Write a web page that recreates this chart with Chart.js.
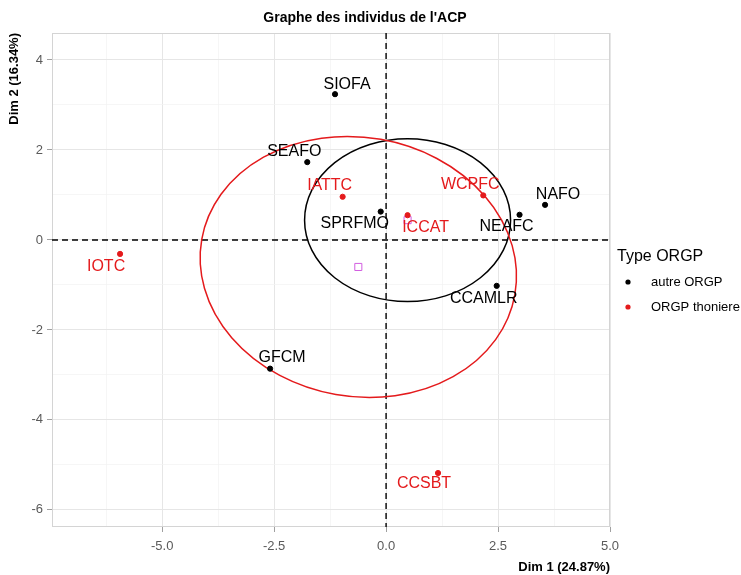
<!DOCTYPE html>
<html>
<head>
<meta charset="utf-8">
<script src="https://cdn.jsdelivr.net/npm/chart.js@4.4.1/dist/chart.umd.min.js"></script>
<style>
  html, body { margin: 0; padding: 0; background: #fff; }
  #wrap { width: 741px; height: 575px; }
</style>
</head>
<body>
<div id="wrap"><canvas id="acpChart" width="741" height="575"></canvas></div>
<script>
// groupe "autre ORGP"
const autreNames = ['SIOFA', 'SEAFO', 'SPRFMO', 'NEAFC', 'NAFO', 'CCAMLR', 'GFCM'];
const autreDim1 = [-1.14, -1.76, -0.12, 2.98, 3.55, 2.47, -2.59];
const autreDim2 = [3.24, 1.73, 0.63, 0.56, 0.78, -1.02, -2.86];

// groupe "ORGP thoniere"
const thonNames = ['IATTC', 'ICCAT', 'WCPFC', 'IOTC', 'CCSBT'];
const thonDim1 = [-0.97, 0.48, 2.17, -5.94, 1.16];
const thonDim2 = [0.96, 0.55, 0.99, -0.31, -5.18];

// barycentres des groupes (autre, thoniere)
const meanDim1 = [0.48, -0.62];
const meanDim2 = [0.44, -0.60];

// ellipses de confiance (demi-axes en unites des dimensions)
const ellipseA = [2.30, 3.55];
const ellipseB = [1.81, 2.88];
const ellipseAngle = [0, 10]; // degres, sens horaire a l'ecran

const groupLabels = ['autre ORGP', 'ORGP thoniere'];
const xTicks = [-5, -2.5, 0, 2.5, 5];
const xMinor = [-6.25, -3.75, -1.25, 1.25, 3.75];
const yTicks = [-6, -4, -2, 0, 2, 4];
const yMinor = [-5, -3, -1, 1, 3];

const groupColors = ['#000000', '#e41a1c'];
const meanColor = '#d25ee0';
const font = '"Liberation Sans", Arial, sans-serif';

// decalage des etiquettes (px) par rapport au point
const labelNudge = {
  SIOFA: [12, -10], SEAFO: [-13, -11], SPRFMO: [-26, 12], NEAFC: [-13, 12],
  NAFO: [13, -10], CCAMLR: [-13, 13], GFCM: [12, -11],
  IATTC: [-13, -11], ICCAT: [18, 12], WCPFC: [-13, -11], IOTC: [-14, 13], CCSBT: [-14, 11]
};

function toPoints(xs, ys) {
  return xs.map((v, i) => ({ x: v, y: ys[i] }));
}

const acpDecor = {
  id: 'acpDecor',
  beforeDatasetsDraw(chart) {
    const { ctx, chartArea: a, scales: { x, y } } = chart;
    ctx.save();
    ctx.strokeStyle = '#d4d4d4';
    ctx.lineWidth = 1;
    ctx.strokeRect(a.left + 0.5, a.top + 0.5, a.width - 1, a.height - 1);

    // axes en pointilles
    const x0 = x.getPixelForValue(0);
    const y0 = y.getPixelForValue(0);
    ctx.strokeStyle = '#000';
    ctx.lineWidth = 1.4;
    ctx.setLineDash([6, 4]);
    ctx.beginPath();
    ctx.moveTo(x0, a.top); ctx.lineTo(x0, a.bottom);
    ctx.moveTo(a.left, y0); ctx.lineTo(a.right, y0);
    ctx.stroke();
    ctx.setLineDash([]);

    // ellipses
    ctx.lineWidth = 1.5;
    ellipseA.forEach((ra, i) => {
      const cx = x.getPixelForValue(meanDim1[i]);
      const cy = y.getPixelForValue(meanDim2[i]);
      const rx = Math.abs(x.getPixelForValue(ra) - x0);
      const ry = Math.abs(y.getPixelForValue(ellipseB[i]) - y0);
      ctx.strokeStyle = groupColors[i];
      ctx.beginPath();
      ctx.ellipse(cx, cy, rx, ry, ellipseAngle[i] * Math.PI / 180, 0, 2 * Math.PI);
      ctx.stroke();
    });
    ctx.restore();
  },
  afterDatasetsDraw(chart) {
    const { ctx, scales: { x, y } } = chart;
    ctx.save();
    ctx.font = '16px ' + font;
    ctx.textAlign = 'center';
    ctx.textBaseline = 'middle';
    [[autreNames, autreDim1, autreDim2], [thonNames, thonDim1, thonDim2]].forEach((g, gi) => {
      ctx.fillStyle = groupColors[gi];
      g[0].forEach((name, i) => {
        const n = labelNudge[name] || [0, -12];
        ctx.fillText(name, x.getPixelForValue(g[1][i]) + n[0], y.getPixelForValue(g[2][i]) + n[1]);
      });
    });
    ctx.restore();
  },
  afterDraw(chart) {
    const { ctx, chartArea: a } = chart;
    ctx.save();
    ctx.fillStyle = '#000';
    ctx.textBaseline = 'middle';

    ctx.font = 'bold 14px ' + font;
    ctx.textAlign = 'center';
    ctx.fillText("Graphe des individus de l'ACP", 365, 18);

    ctx.font = 'bold 13px ' + font;
    ctx.textAlign = 'right';
    ctx.fillText('Dim 1 (24.87%)', a.right, 567);
    ctx.save();
    ctx.translate(14, a.top);
    ctx.rotate(-Math.PI / 2);
    ctx.fillText('Dim 2 (16.34%)', 0, 0);
    ctx.restore();

    // legende
    ctx.textAlign = 'left';
    ctx.font = '16px ' + font;
    ctx.fillText('Type ORGP', 617, 257);
    ctx.font = '13px ' + font;
    groupLabels.forEach((lab, i) => {
      const ly = 282 + i * 25;
      ctx.fillStyle = groupColors[i];
      ctx.beginPath();
      ctx.arc(628, ly, 2.6, 0, 2 * Math.PI);
      ctx.fill();
      ctx.fillStyle = '#000';
      ctx.fillText(lab, 651, ly);
    });
    ctx.restore();
  }
};

function gridStyle(majors) {
  return {
    color: c => majors.includes(c.tick.value) ? '#e6e6e6' : '#f2f2f2',
    lineWidth: c => majors.includes(c.tick.value) ? 1 : 0.7,
    tickColor: c => majors.includes(c.tick.value) ? '#a0a0a0' : 'rgba(0,0,0,0)',
    tickLength: 5
  };
}

new Chart(document.getElementById('acpChart'), {
  type: 'scatter',
  data: {
    datasets: [
      {
        label: groupLabels[0],
        data: toPoints(autreDim1, autreDim2),
        backgroundColor: groupColors[0],
        borderColor: groupColors[0],
        pointRadius: 2.6
      },
      {
        label: groupLabels[1],
        data: toPoints(thonDim1, thonDim2),
        backgroundColor: groupColors[1],
        borderColor: groupColors[1],
        pointRadius: 2.6
      },
      {
        label: 'barycentres',
        data: toPoints(meanDim1, meanDim2),
        pointStyle: 'rect',
        backgroundColor: 'rgba(0,0,0,0)',
        borderColor: meanColor,
        borderWidth: 1,
        pointRadius: 5
      }
    ]
  },
  options: {
    responsive: false,
    animation: false,
    layout: { padding: { top: 33, right: 131, left: 0, bottom: 0 } },
    plugins: {
      legend: { display: false },
      title: { display: false },
      tooltip: { enabled: false }
    },
    scales: {
      x: {
        type: 'linear',
        min: -7.46,
        max: 5.0,
        afterFit: s => { s.height = 48; },
        afterBuildTicks: s => {
          s.ticks = xTicks.concat(xMinor).sort((p, q) => p - q).map(v => ({ value: v }));
        },
        grid: gridStyle(xTicks),
        border: { display: false },
        ticks: {
          padding: 7,
          color: '#5a5a5a',
          font: { family: font, size: 13 },
          maxRotation: 0,
          autoSkip: false,
          callback: v => xTicks.includes(v) ? v.toFixed(1) : ''
        }
      },
      y: {
        type: 'linear',
        min: -6.38,
        max: 4.6,
        afterFit: s => { s.width = 52; },
        afterBuildTicks: s => {
          s.ticks = yTicks.concat(yMinor).sort((p, q) => p - q).map(v => ({ value: v }));
        },
        grid: gridStyle(yTicks),
        border: { display: false },
        ticks: {
          padding: 4,
          color: '#5a5a5a',
          font: { family: font, size: 13 },
          autoSkip: false,
          callback: v => yTicks.includes(v) ? String(v) : ''
        }
      }
    }
  },
  plugins: [acpDecor]
});
</script>
</body>
</html>
